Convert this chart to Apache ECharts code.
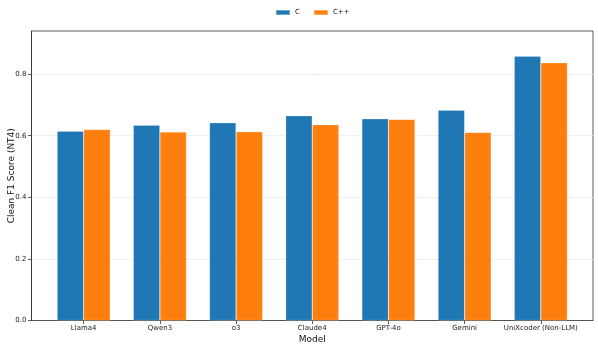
<!DOCTYPE html>
<html>
<head>
<meta charset="utf-8">
<script src="https://cdn.jsdelivr.net/npm/echarts@6/dist/echarts.min.js"></script>
<style>
html,body{margin:0;padding:0;background:#fff;}
#chart{width:598px;height:348px;}
</style>
</head>
<body>
<div id="chart"></div>
<script>
const categories = ["Llama4", "Qwen3", "o3", "Claude4", "GPT-4o", "Gemini", "UniXcoder (Non-LLM)"];
const seriesNames = ["C", "C++"];
const cValues = [0.615, 0.634, 0.642, 0.665, 0.655, 0.683, 0.858];
const cppValues = [0.620, 0.612, 0.613, 0.636, 0.653, 0.611, 0.837];
const yTicks = [0.0, 0.2, 0.4, 0.6, 0.8];

const chart = echarts.init(document.getElementById('chart'));
const font = 'DejaVu Sans';
const idx = categories.map((_, i) => i);
const toPairs = vals => vals.map((v, i) => [i, v]);

chart.setOption({
  animation: false,
  textStyle: { fontFamily: font },
  legend: {
    top: 4,
    left: 270,
    itemWidth: 14,
    itemHeight: 5,
    itemGap: 13,
    icon: 'rect',
    textStyle: { fontFamily: font, fontSize: 7, color: '#222' },
    data: seriesNames
  },
  grid: {
    left: 31.5,
    right: 5,
    top: 31,
    bottom: 27.5,
    show: true,
    borderColor: '#333',
    borderWidth: 0.8,
    containLabel: false,
    outerBoundsMode: 'none'
  },
  xAxis: {
    type: 'value',
    min: -0.685,
    max: 6.685,
    name: 'Model',
    nameLocation: 'middle',
    nameGap: 15,
    nameMoveOverlap: false,
    nameTextStyle: { fontFamily: font, fontSize: 9, color: '#111' },
    axisLine: { show: true, onZero: false, lineStyle: { color: '#333', width: 0.8 } },
    axisTick: { show: true, customValues: idx, length: 3.5, lineStyle: { color: '#333', width: 0.8 } },
    axisLabel: {
      customValues: idx,
      formatter: v => categories[Math.round(v)],
      fontFamily: font, fontSize: 7, color: '#222', margin: 4
    },
    splitLine: { show: false }
  },
  yAxis: {
    type: 'value',
    min: 0,
    max: 0.94,
    name: 'Clean F1 Score (NT4)',
    nameLocation: 'middle',
    nameGap: 15,
    nameMoveOverlap: false,
    nameRotate: 90,
    nameTextStyle: { fontFamily: font, fontSize: 9, color: '#111' },
    axisLine: { show: true, onZero: false, lineStyle: { color: '#333', width: 0.8 } },
    axisTick: { show: true, customValues: yTicks, length: 3.5, lineStyle: { color: '#333', width: 0.8 } },
    axisLabel: {
      customValues: yTicks,
      formatter: v => v.toFixed(1),
      fontFamily: font, fontSize: 7, color: '#222', margin: 5
    },
    splitLine: { show: true, lineStyle: { color: '#ebebeb', width: 0.8 } }
  },
  series: [
    {
      name: seriesNames[0],
      type: 'bar',
      data: toPairs(cValues),
      barWidth: 26.6,
      barGap: '0%',
      itemStyle: { color: '#1f77b4', borderColor: 'rgba(255,255,255,0.35)', borderWidth: 0.6 }
    },
    {
      name: seriesNames[1],
      type: 'bar',
      data: toPairs(cppValues),
      barWidth: 26.6,
      barGap: '0%',
      itemStyle: { color: '#ff7f0e', borderColor: 'rgba(255,255,255,0.35)', borderWidth: 0.6 }
    }
  ]
});
</script>
</body>
</html>
